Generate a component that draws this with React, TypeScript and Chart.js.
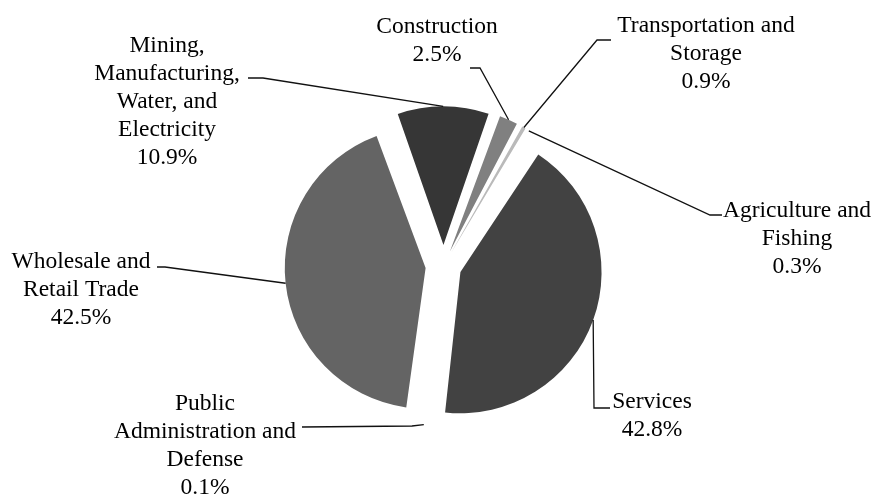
import React, { useEffect, useRef } from 'react';
import { Chart, registerables } from 'chart.js';

Chart.register(...registerables);

// ---- data ----
const categories = [
  'Construction',
  'Transportation and Storage',
  'Agriculture and Fishing',
  'Services',
  'Public Administration and Defense',
  'Wholesale and Retail Trade',
  'Mining, Manufacturing, Water, and Electricity',
];
const shares = [2.5, 0.9, 0.3, 42.8, 0.1, 42.5, 10.9];
const labelLines = [
  ['Construction'],
  ['Transportation and', 'Storage'],
  ['Agriculture and', 'Fishing'],
  ['Services'],
  ['Public', 'Administration and', 'Defense'],
  ['Wholesale and', 'Retail Trade'],
  ['Mining,', 'Manufacturing,', 'Water, and', 'Electricity'],
];

// ---- styles ----
const sliceColors = ['#808080', '#bababa', '#dedede', '#424242', '#505050', '#646464', '#363636'];
const sliceOffsets = [63, 60, 58, 72, 58, 72, 84];
const FONT = '23.5px "Liberation Serif", "Times New Roman", serif';
const LINE_H = 28;
// text center x, first baseline y, elbow point, tick end point
const labelLayout = [
  { tx: 437, ty: 33, elbow: [480, 68], end: [470, 68] },
  { tx: 706, ty: 32, elbow: [597, 40], end: [611, 40] },
  { tx: 797, ty: 217, elbow: [710, 215], end: [722, 215] },
  { tx: 652, ty: 408, elbow: [594, 408], end: [610, 408] },
  { tx: 205, ty: 410, elbow: [412, 426], end: [302, 427] },
  { tx: 81, ty: 268, elbow: [165, 267], end: [157, 267] },
  { tx: 167, ty: 51.5, elbow: [263, 78], end: [248, 78] },
];

const labelPlugin = {
  id: 'pieLabels',
  afterDatasetsDraw(chart: any) {
    const ctx = chart.ctx as CanvasRenderingContext2D;
    const meta = chart.getDatasetMeta(0);
    ctx.save();
    meta.data.forEach((arc: any, i: number) => {
      const p = arc.getProps(['x', 'y', 'startAngle', 'endAngle', 'outerRadius', 'circumference'], true);
      const off = (arc.options.offset || 0) / 4;
      const mid = (p.startAngle + p.endAngle) / 2;
      const fix = 1 - Math.sin(Math.min(Math.PI, p.circumference || 0));
      const r = p.outerRadius + off * fix;
      const ax = p.x + Math.cos(mid) * (off + r);
      const ay = p.y + Math.sin(mid) * (off + r);
      const L = labelLayout[i];
      ctx.strokeStyle = '#111';
      ctx.lineWidth = 1.3;
      ctx.beginPath();
      ctx.moveTo(ax, ay);
      ctx.lineTo(L.elbow[0], L.elbow[1]);
      ctx.lineTo(L.end[0], L.end[1]);
      ctx.stroke();

      ctx.font = FONT;
      ctx.fillStyle = '#000';
      ctx.textAlign = 'center';
      ctx.textBaseline = 'alphabetic';
      const lines = [...labelLines[i], `${shares[i].toFixed(1)}%`];
      lines.forEach((t, k) => ctx.fillText(t, L.tx, L.ty + k * LINE_H));
    });
    ctx.restore();
  },
};

export default function App() {
  const ref = useRef<HTMLCanvasElement | null>(null);
  useEffect(() => {
    if (!ref.current) return;
    const chart = new Chart(ref.current, {
      type: 'pie',
      data: {
        labels: categories,
        datasets: [
          {
            data: shares,
            backgroundColor: sliceColors,
            borderWidth: 0,
            offset: sliceOffsets,
          } as any,
        ],
      },
      options: {
        responsive: false,
        animation: false,
        rotation: 19.5,
        radius: 131,
        layout: { padding: { left: 13, top: 35, right: 0, bottom: 0 } },
        plugins: {
          legend: { display: false },
          tooltip: { enabled: false },
          title: { display: false },
        },
      } as any,
      plugins: [labelPlugin],
    });
    return () => chart.destroy();
  }, []);
  return (
    <div style={{ position: 'absolute', left: 0, top: 0, width: 874, height: 497, background: '#fff' }}>
      <canvas ref={ref} width={874} height={497} />
    </div>
  );
}
